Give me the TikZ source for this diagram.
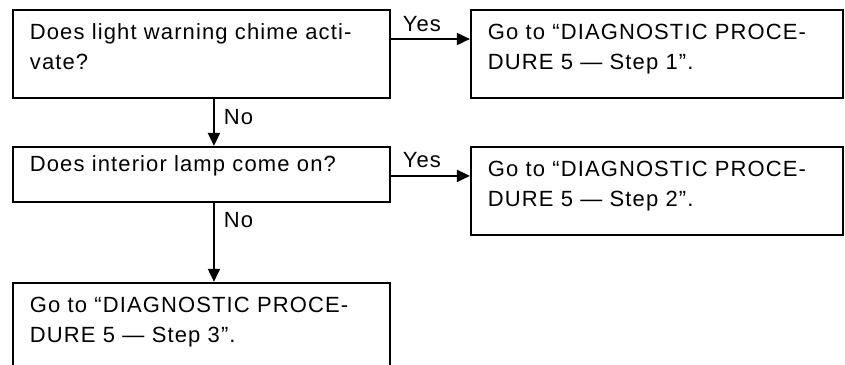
\documentclass[tikz,border=0pt]{standalone}
\usepackage{fontspec}
\setmainfont{Liberation Sans}[LetterSpace=5]
\usetikzlibrary{arrows.meta,positioning}
\newcommand{\boxfont}{\fontsize{22pt}{30pt}\selectfont}
\begin{document}
\begin{tikzpicture}[x=1pt,y=1pt,>={Triangle[length=13pt,width=12pt]},line width=1.9pt,
  box/.style={draw,anchor=north west,align=left,font=\boxfont,text width=343pt,inner xsep=17pt,inner ysep=0pt,text height=30pt,text depth=58pt},
  gobox/.style={box,text width=338pt},
  lbl/.style={font=\boxfont,inner sep=0pt}]
\useasboundingbox (0,0) rectangle (845,-364);
\node[box] (q1) at (12,-9) {Does light warning chime acti-\\vate?};
\node[gobox,right=79pt of q1.north east,anchor=north west] (go1) {Go to “DIAGNOSTIC PROCE-\\DURE 5 — Step 1”.};
\node[box,text height=25pt,text depth=30pt,below=47pt of q1.south west,anchor=north west] (q2) {Does interior lamp come on?};
\node[gobox,right=79pt of q2.north east,anchor=north west] (go2) {Go to “DIAGNOSTIC PROCE-\\DURE 5 — Step 2”.};
\node[box,below=79pt of q2.south west,anchor=north west] (go3) {Go to “DIAGNOSTIC PROCE-\\DURE 5 — Step 3”.};
% yes / no branches
\coordinate (y1) at ([yshift=-30pt]q1.north east);
\coordinate (y2) at ([yshift=-30pt]q2.north east);
\coordinate (n1) at ([xshift=12.5pt]q1.south);
\coordinate (n2) at ([xshift=12.5pt]q2.south);
\draw[->] (y1) -- (y1 -| go1.west) node[lbl,pos=0,anchor=base west,xshift=11pt,yshift=8pt] {Yes};
\draw[->] (y2) -- (y2 -| go2.west) node[lbl,pos=0,anchor=base west,xshift=11pt,yshift=8pt] {Yes};
\draw[->] (n1) -- (n1 |- q2.north) node[lbl,pos=0,anchor=north west,xshift=9pt,yshift=-10pt] {No};
\draw[->] (n2) -- (n2 |- go3.north) node[lbl,pos=0,anchor=north west,xshift=9pt,yshift=-9pt] {No};
\end{tikzpicture}
\end{document}
